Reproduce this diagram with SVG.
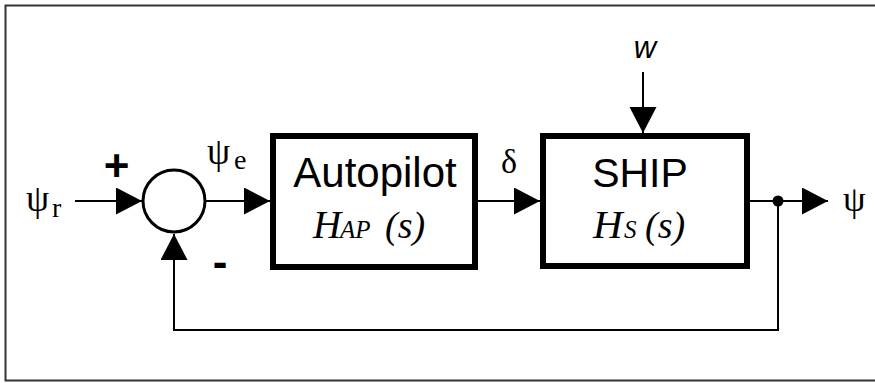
<svg xmlns="http://www.w3.org/2000/svg" width="875" height="383" viewBox="0 0 875 383">
<style>
.frame{fill:none;stroke:#333;stroke-width:2}
.blk{fill:#fff;stroke:#000;stroke-width:6}
.sum{fill:#fff;stroke:#000;stroke-width:3}
.wire{fill:none;stroke:#000;stroke-width:2}
.sans{font-family:"Liberation Sans",Arial,sans-serif;fill:#000}
.serif{font-family:"Liberation Serif","Times New Roman",serif;fill:#000}
.ital{font-family:"Liberation Serif","Times New Roman",serif;font-style:italic;fill:#000}
</style>
<defs>
<marker id="arr" markerUnits="userSpaceOnUse" markerWidth="27" markerHeight="28" refX="26" refY="13.5" orient="auto">
<path d="M0,0 L26,13.5 L0,27 z" fill="#000"/>
</marker>
</defs>
<rect class="frame" x="5.5" y="5.5" width="900" height="375"/>
<g id="connectors">
<line class="wire" x1="75" y1="201" x2="142" y2="201" marker-end="url(#arr)"/>
<line class="wire" x1="206" y1="201" x2="270" y2="201" marker-end="url(#arr)"/>
<line class="wire" x1="478" y1="201" x2="540" y2="201" marker-end="url(#arr)"/>
<line class="wire" x1="643" y1="72" x2="643" y2="133" marker-end="url(#arr)"/>
<line class="wire" x1="750" y1="201" x2="828" y2="201" marker-end="url(#arr)"/>
<polyline class="wire" points="778,201 778,330 174,330 174,234" marker-end="url(#arr)"/>
<circle cx="778" cy="201" r="5.5" fill="#000"/>
</g>
<g id="sum">
<circle class="sum" cx="174" cy="201" r="31"/>
<text class="sans" x="116.5" y="181" font-size="44" font-weight="bold" text-anchor="middle">+</text>
<text class="sans" x="220" y="277" font-size="44" font-weight="bold" text-anchor="middle">-</text>
</g>
<g id="autopilot">
<rect class="blk" x="273" y="136" width="202" height="131"/>
<text class="sans" x="375" y="187" font-size="42" text-anchor="middle">Autopilot</text>
<text class="ital" y="238"><tspan x="313" font-size="39">H</tspan><tspan x="340" font-size="25">AP</tspan><tspan x="385" font-size="38">(s)</tspan></text>
</g>
<g id="ship">
<rect class="blk" x="543" y="136" width="204" height="130"/>
<text class="sans" x="640" y="187" font-size="41" text-anchor="middle">SHIP</text>
<text class="ital" y="238"><tspan x="593" font-size="41">H</tspan><tspan x="624" font-size="25">S</tspan><tspan x="645" font-size="38">(s)</tspan></text>
</g>
<g id="labels">
<text class="serif" y="211"><tspan x="26" font-size="37">ψ</tspan><tspan x="52" y="217" font-size="28">r</tspan></text>
<text class="serif" y="164"><tspan x="207" font-size="37">ψ</tspan><tspan x="234" y="169" font-size="28">e</tspan></text>
<text class="serif" x="501" y="173" font-size="34">δ</text>
<text class="serif" x="843" y="211" font-size="36">ψ</text>
<text class="sans" x="645" y="58" font-size="31" font-style="italic" text-anchor="middle">w</text>
</g>
</svg>
